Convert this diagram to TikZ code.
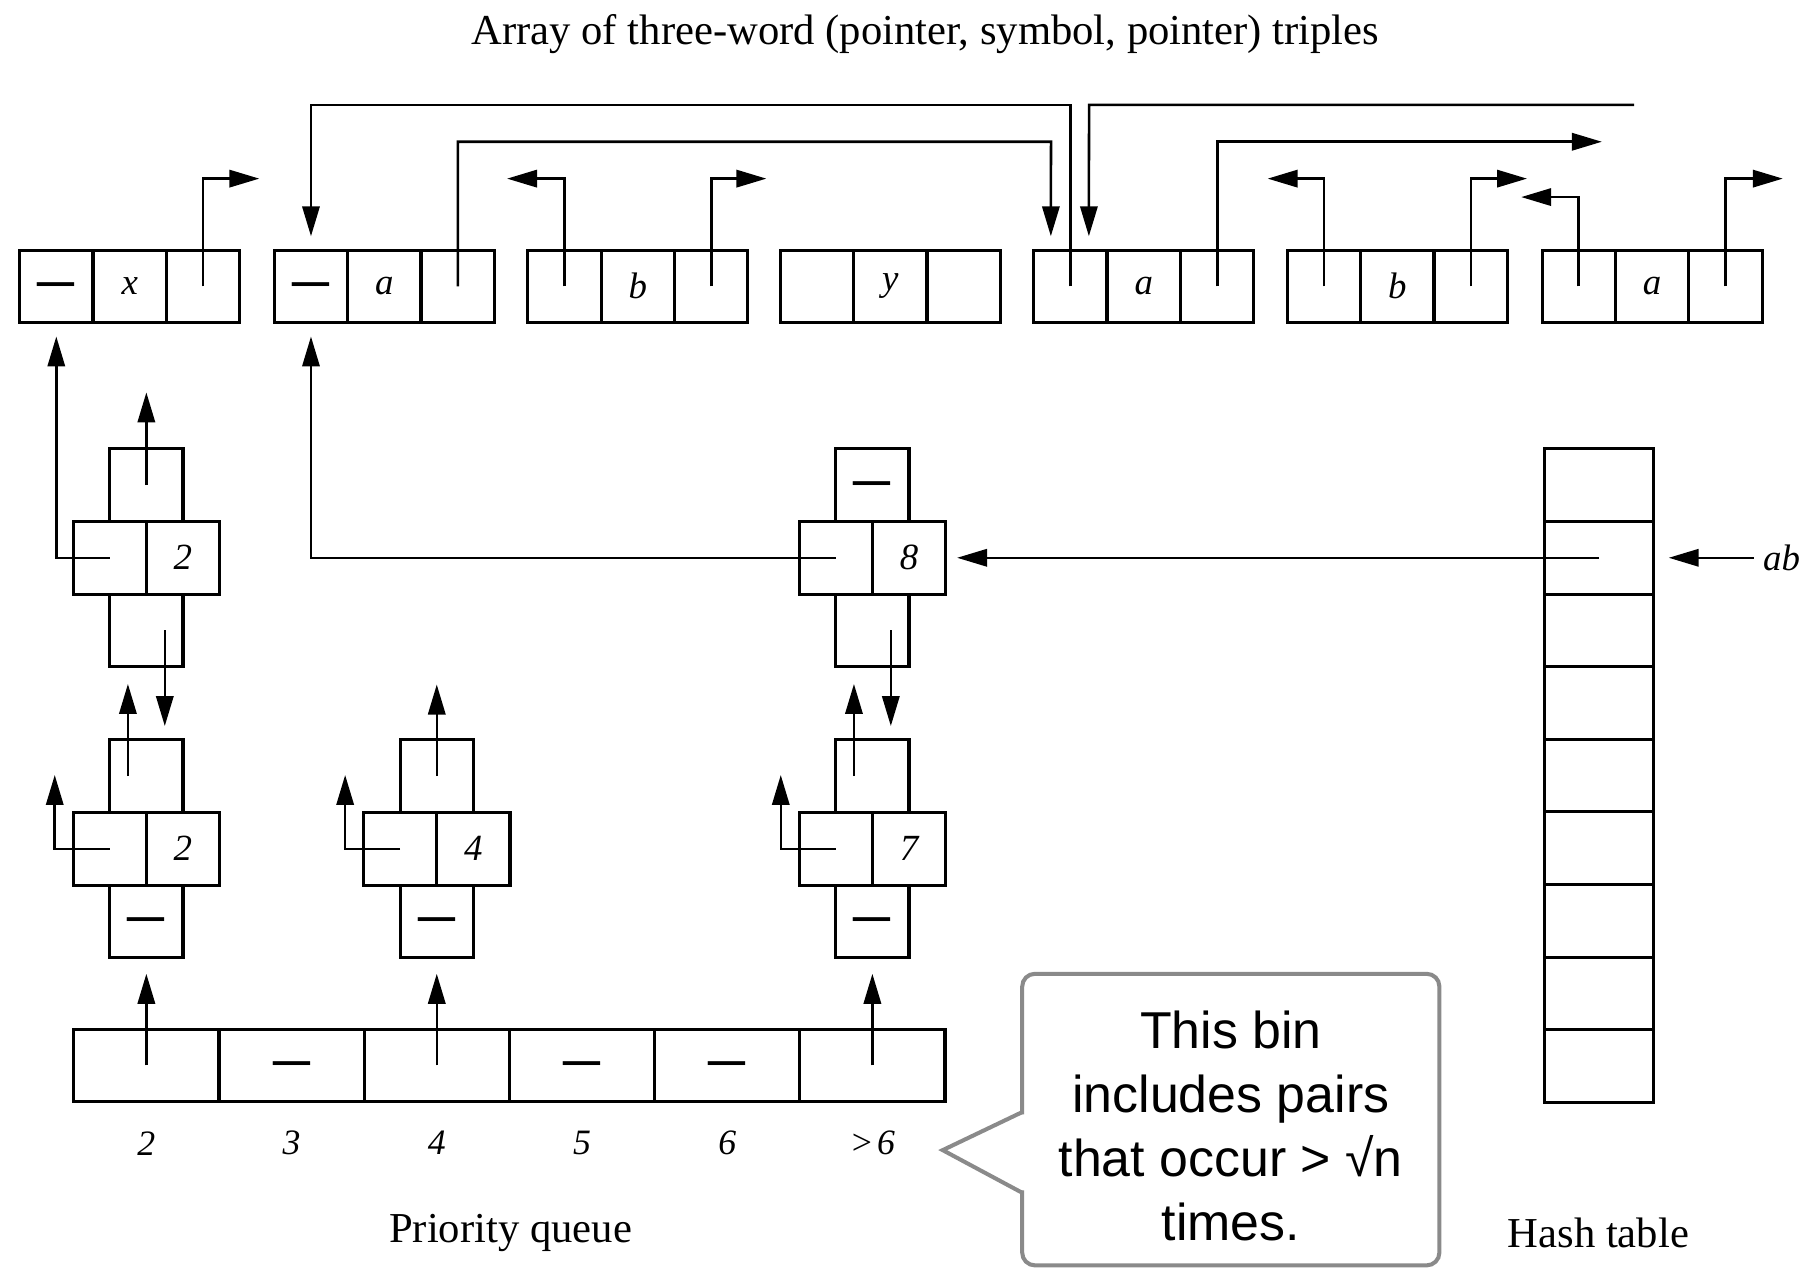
\documentclass[tikz,border=0pt]{standalone}
\usepackage{graphicx}
\usepackage{fontspec}
\setmainfont{Liberation Serif}
\newfontfamily\notefont{Liberation Sans}
\usetikzlibrary{arrows.meta,calc}

\definecolor{notegray}{HTML}{8A8A8A}

% nil entry of a cell, centred on the cell's middle
\newcommand\nilmark{{\upshape\bfseries\fontsize{32}{32}\selectfont\raisebox{-10pt}[0pt][0pt]{\scalebox{1}[1.5]{—}}}}

% a (pointer, symbol, pointer) triple: name, left x, three entries
\newcommand\tripleat[5]{%
  \node[cell] (#1l) at (#2+31.85,248.5) {#3};
  \node[cell] (#1m) at (#2+95.55,248.5) {#4};
  \node[cell] (#1r) at (#2+159.25,248.5) {#5};}

% a queue record drawn as a cross: name, centre x, centre y, top, left, right, bottom
\newcommand\crossat[7]{%
  \node[cell] (#1-t) at (#2,#3-63) {#4};
  \node[cell] (#1-b) at (#2,#3+63) {#7};
  \node[cell] (#1-l) at (#2-31.75,#3) {#5};
  \node[cell] (#1-r) at (#2+31.75,#3) {#6};}

\begin{document}
\begin{tikzpicture}[x=1pt,y=-1pt,
  cell/.style={draw, line width=2.7pt, minimum width=63.5pt, minimum height=63pt,
    inner sep=0pt, outer sep=0pt, font=\fontsize{32}{32}\selectfont\itshape},
  pqcell/.style={cell, minimum width=126pt},
  hcell/.style={cell, minimum width=95pt},
  ptr/.style={line width=2.2pt, -{Triangle[length=26pt,width=15pt]}},
  lbl/.style={font=\fontsize{37}{40}\selectfont, inner sep=0pt},
  num/.style={font=\fontsize{31}{31}\selectfont\itshape, inner sep=0pt},
  notebox/.style={draw=notegray, line width=3.5pt, rounded corners=11pt,
    minimum width=362pt, minimum height=253pt, inner sep=0pt},
]
\useasboundingbox (0,0) rectangle (1568,1101);

% ---------- array of triples ----------
\node[lbl] (title) at (803,30) {Array of three-word (pointer, symbol, pointer) triples};

\tripleat{t1}{17}{\nilmark}{x}{}
\tripleat{t2}{238}{\nilmark}{a}{}
\tripleat{t3}{458}{}{b}{}
\tripleat{t4}{677}{}{y}{}
\tripleat{t5}{897}{}{a}{}
\tripleat{t6}{1117}{}{b}{}
\tripleat{t7}{1338}{}{a}{}

\coordinate (e1) at (225,155);
\coordinate (e3l) at (440,155);
\coordinate (e3r) at (665,155);
\coordinate (e5r) at (1390,123);
\coordinate (e6l) at (1100,155);
\coordinate (e6r) at (1325,155);
\coordinate (e7l) at (1320,171);
\coordinate (e7r) at (1547,155);
\coordinate (in1) at (1418,91);

\draw[ptr] (t1r.center) |- (e1);
\draw[ptr] (t3l.center) |- (e3l);
\draw[ptr] (t3r.center) |- (e3r);
\draw[ptr] (t5r.center) |- (e5r);
\draw[ptr] (t6l.center) |- (e6l);
\draw[ptr] (t6r.center) |- (e6r);
\draw[ptr] (t7l.center) |- (e7l);
\draw[ptr] (t7r.center) |- (e7r);

\draw[ptr] (t2r.center) |- (912,123) -- ($(t5l.north)+(-17,-12)$);
\draw[ptr] (t5l.center) |- (269.85,91) -- ($(t2l.north)+(0,-12)$);
\draw[ptr] (in1) -- (945,91) -- ($(t5l.north)+(16,-12)$);

% ---------- priority queue records ----------
\crossat{n2a}{127}{484}{}{}{2}{}
\crossat{n8}{757}{484}{\nilmark}{}{8}{}
\crossat{n2b}{127}{736.5}{}{}{2}{\nilmark}
\crossat{n4}{379}{736.5}{}{}{4}{\nilmark}
\crossat{n7}{757}{736.5}{}{}{7}{\nilmark}

\draw[ptr] (n2a-l.center) -| ($(t1l.south)+(0,12)$);
\draw[ptr] (n2a-t.center) -- ($(n2a-t.north)+(0,-49)$);
\draw[ptr] ($(n2a-b.center)+(16,0)$) -- ($(n2b-t.north)+(16,-12)$);
\draw[ptr] ($(n2b-t.center)+(-16,0)$) -- ($(n2a-b.south)+(-16,15)$);
\draw[ptr] (n2b-l.center) -| ($(n2b-l.west)+(-16,-64)$);

\draw[ptr] (n4-t.center) -- ($(n4-t.north)+(0,-48)$);
\draw[ptr] (n4-l.center) -| ($(n4-l.west)+(-16,-64)$);

\draw[ptr] (n8-l.center) -| ($(t2l.south)+(0,12)$);
\draw[ptr] ($(n8-b.center)+(16,0)$) -- ($(n7-t.north)+(16,-12)$);
\draw[ptr] ($(n7-t.center)+(-16,0)$) -- ($(n8-b.south)+(-16,15)$);
\draw[ptr] (n7-l.center) -| ($(n7-l.west)+(-16,-64)$);

% ---------- bins ----------
\node[pqcell] (q1) at (127,924.5) {};
\node[pqcell] (q2) at (253,924.5) {\nilmark};
\node[pqcell] (q3) at (379,924.5) {};
\node[pqcell] (q4) at (505,924.5) {\nilmark};
\node[pqcell] (q5) at (631,924.5) {\nilmark};
\node[pqcell] (q6) at (757,924.5) {};

\draw[ptr] (q1.center) -- ($(n2b-b.south)+(0,14)$);
\draw[ptr] (q3.center) -- ($(n4-b.south)+(0,14)$);
\draw[ptr] (q6.center) -- ($(n7-b.south)+(0,14)$);

\node[num] (l1) at (127,992) {2};
\node[num] (l2) at (253,992) {3};
\node[num] (l3) at (379,992) {4};
\node[num] (l4) at (505,992) {5};
\node[num] (l5) at (631,992) {6};
\node[num] (l6) at (757,992) {>\kern3pt6};

\node[lbl] (pqname) at (443,1070) {Priority queue};

% ---------- hash table ----------
\foreach \k in {1,...,9}
  \node[hcell] (h\k) at (1387.5,421+63*\k-63) {};
\node[lbl] (htname) at (1387,1070) {Hash table};

\draw[ptr] (h2.center) -- ($(n8-r.east)+(10,0)$);
\node[num, font=\fontsize{32}{32}\selectfont\itshape] (ab) at (1546,484) {ab};
\draw[ptr] ($(ab.west)+(-8,0)$) -- ($(h2.east)+(13,0)$);

% ---------- callout ----------
\node[notebox] (note) at (1068,971.5) {};
\coordinate (pa) at (887,965);
\coordinate (pb) at (887,1035);
\coordinate (ptip) at (818,998);
\fill[white] (891,967) -- (883,967) -- (ptip) -- (883,1033) -- (891,1033) -- cycle;
\draw[notegray, line width=3.5pt, line join=miter] (pa) -- (ptip) -- (pb);
\node[font=\notefont\fontsize{45}{55.6}\selectfont, align=center, inner sep=0pt]
  (notetext) at (1068,977) {This bin\\includes pairs\\that occur > √n\\times.};
\end{tikzpicture}
\end{document}
